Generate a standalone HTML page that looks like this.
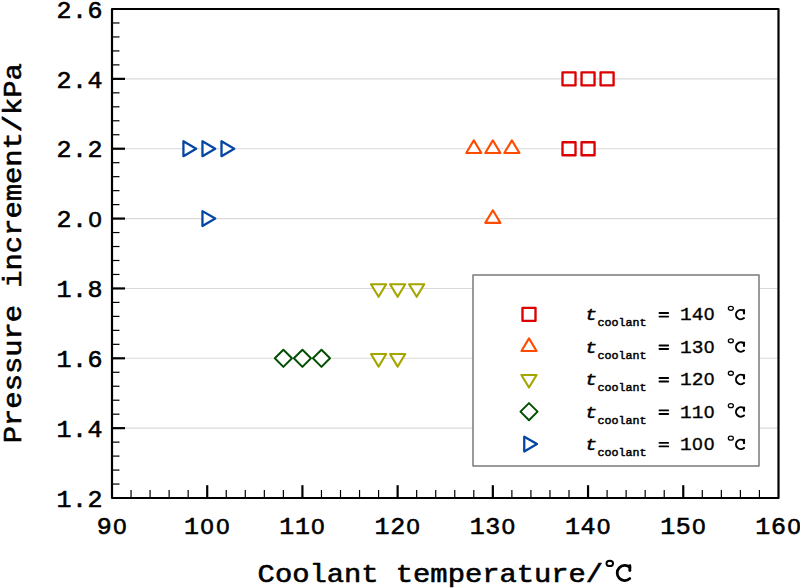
<!DOCTYPE html>
<html><head><meta charset="utf-8"><style>
html,body{margin:0;padding:0;background:#fff;}
svg{display:block;}
text{fill:#000;stroke:#000;stroke-linejoin:round;font-family:"Liberation Mono",monospace;}
.tk{font-size:25px;letter-spacing:0.6px;stroke-width:0.6;}
.tt{font-size:28.8px;stroke-width:0.65;}
.ti{font-style:italic;font-size:20px;stroke-width:0.5;}
.sub{font-size:11.7px;stroke-width:0.5;}
.lg{font-size:19.5px;stroke-width:0.4;}
.z{font-family:"Liberation Sans",sans-serif;}
</style></head><body>
<svg width="800" height="588" viewBox="0 0 800 588">
<line x1="113" y1="78.86" x2="777.5" y2="78.86" stroke="#d9d9d9" stroke-width="1.1"/>
<line x1="113" y1="148.72" x2="777.5" y2="148.72" stroke="#d9d9d9" stroke-width="1.1"/>
<line x1="113" y1="218.58" x2="777.5" y2="218.58" stroke="#d9d9d9" stroke-width="1.1"/>
<line x1="113" y1="288.44" x2="777.5" y2="288.44" stroke="#d9d9d9" stroke-width="1.1"/>
<line x1="113" y1="358.30" x2="777.5" y2="358.30" stroke="#d9d9d9" stroke-width="1.1"/>
<line x1="113" y1="428.16" x2="777.5" y2="428.16" stroke="#d9d9d9" stroke-width="1.1"/>
<line x1="112" y1="484.05" x2="119.5" y2="484.05" stroke="#000" stroke-width="1.2"/>
<line x1="112" y1="470.08" x2="119.5" y2="470.08" stroke="#000" stroke-width="1.2"/>
<line x1="112" y1="456.10" x2="119.5" y2="456.10" stroke="#000" stroke-width="1.2"/>
<line x1="112" y1="442.13" x2="119.5" y2="442.13" stroke="#000" stroke-width="1.2"/>
<line x1="112" y1="428.16" x2="125" y2="428.16" stroke="#000" stroke-width="2.2"/>
<line x1="112" y1="414.19" x2="119.5" y2="414.19" stroke="#000" stroke-width="1.2"/>
<line x1="112" y1="400.22" x2="119.5" y2="400.22" stroke="#000" stroke-width="1.2"/>
<line x1="112" y1="386.24" x2="119.5" y2="386.24" stroke="#000" stroke-width="1.2"/>
<line x1="112" y1="372.27" x2="119.5" y2="372.27" stroke="#000" stroke-width="1.2"/>
<line x1="112" y1="358.30" x2="125" y2="358.30" stroke="#000" stroke-width="2.2"/>
<line x1="112" y1="344.33" x2="119.5" y2="344.33" stroke="#000" stroke-width="1.2"/>
<line x1="112" y1="330.36" x2="119.5" y2="330.36" stroke="#000" stroke-width="1.2"/>
<line x1="112" y1="316.38" x2="119.5" y2="316.38" stroke="#000" stroke-width="1.2"/>
<line x1="112" y1="302.41" x2="119.5" y2="302.41" stroke="#000" stroke-width="1.2"/>
<line x1="112" y1="288.44" x2="125" y2="288.44" stroke="#000" stroke-width="2.2"/>
<line x1="112" y1="274.47" x2="119.5" y2="274.47" stroke="#000" stroke-width="1.2"/>
<line x1="112" y1="260.50" x2="119.5" y2="260.50" stroke="#000" stroke-width="1.2"/>
<line x1="112" y1="246.52" x2="119.5" y2="246.52" stroke="#000" stroke-width="1.2"/>
<line x1="112" y1="232.55" x2="119.5" y2="232.55" stroke="#000" stroke-width="1.2"/>
<line x1="112" y1="218.58" x2="125" y2="218.58" stroke="#000" stroke-width="2.2"/>
<line x1="112" y1="204.61" x2="119.5" y2="204.61" stroke="#000" stroke-width="1.2"/>
<line x1="112" y1="190.64" x2="119.5" y2="190.64" stroke="#000" stroke-width="1.2"/>
<line x1="112" y1="176.66" x2="119.5" y2="176.66" stroke="#000" stroke-width="1.2"/>
<line x1="112" y1="162.69" x2="119.5" y2="162.69" stroke="#000" stroke-width="1.2"/>
<line x1="112" y1="148.72" x2="125" y2="148.72" stroke="#000" stroke-width="2.2"/>
<line x1="112" y1="134.75" x2="119.5" y2="134.75" stroke="#000" stroke-width="1.2"/>
<line x1="112" y1="120.78" x2="119.5" y2="120.78" stroke="#000" stroke-width="1.2"/>
<line x1="112" y1="106.80" x2="119.5" y2="106.80" stroke="#000" stroke-width="1.2"/>
<line x1="112" y1="92.83" x2="119.5" y2="92.83" stroke="#000" stroke-width="1.2"/>
<line x1="112" y1="78.86" x2="125" y2="78.86" stroke="#000" stroke-width="2.2"/>
<line x1="112" y1="64.89" x2="119.5" y2="64.89" stroke="#000" stroke-width="1.2"/>
<line x1="112" y1="50.92" x2="119.5" y2="50.92" stroke="#000" stroke-width="1.2"/>
<line x1="112" y1="36.94" x2="119.5" y2="36.94" stroke="#000" stroke-width="1.2"/>
<line x1="112" y1="22.97" x2="119.5" y2="22.97" stroke="#000" stroke-width="1.2"/>
<line x1="131.04" y1="498" x2="131.04" y2="490" stroke="#000" stroke-width="1.2"/>
<line x1="150.08" y1="498" x2="150.08" y2="490" stroke="#000" stroke-width="1.2"/>
<line x1="169.13" y1="498" x2="169.13" y2="490" stroke="#000" stroke-width="1.2"/>
<line x1="188.17" y1="498" x2="188.17" y2="490" stroke="#000" stroke-width="1.2"/>
<line x1="207.21" y1="498" x2="207.21" y2="485.2" stroke="#000" stroke-width="2.2"/>
<line x1="226.25" y1="498" x2="226.25" y2="490" stroke="#000" stroke-width="1.2"/>
<line x1="245.29" y1="498" x2="245.29" y2="490" stroke="#000" stroke-width="1.2"/>
<line x1="264.34" y1="498" x2="264.34" y2="490" stroke="#000" stroke-width="1.2"/>
<line x1="283.38" y1="498" x2="283.38" y2="490" stroke="#000" stroke-width="1.2"/>
<line x1="302.42" y1="498" x2="302.42" y2="485.2" stroke="#000" stroke-width="2.2"/>
<line x1="321.46" y1="498" x2="321.46" y2="490" stroke="#000" stroke-width="1.2"/>
<line x1="340.50" y1="498" x2="340.50" y2="490" stroke="#000" stroke-width="1.2"/>
<line x1="359.55" y1="498" x2="359.55" y2="490" stroke="#000" stroke-width="1.2"/>
<line x1="378.59" y1="498" x2="378.59" y2="490" stroke="#000" stroke-width="1.2"/>
<line x1="397.63" y1="498" x2="397.63" y2="485.2" stroke="#000" stroke-width="2.2"/>
<line x1="416.67" y1="498" x2="416.67" y2="490" stroke="#000" stroke-width="1.2"/>
<line x1="435.71" y1="498" x2="435.71" y2="490" stroke="#000" stroke-width="1.2"/>
<line x1="454.76" y1="498" x2="454.76" y2="490" stroke="#000" stroke-width="1.2"/>
<line x1="473.80" y1="498" x2="473.80" y2="490" stroke="#000" stroke-width="1.2"/>
<line x1="492.84" y1="498" x2="492.84" y2="485.2" stroke="#000" stroke-width="2.2"/>
<line x1="511.88" y1="498" x2="511.88" y2="490" stroke="#000" stroke-width="1.2"/>
<line x1="530.92" y1="498" x2="530.92" y2="490" stroke="#000" stroke-width="1.2"/>
<line x1="549.97" y1="498" x2="549.97" y2="490" stroke="#000" stroke-width="1.2"/>
<line x1="569.01" y1="498" x2="569.01" y2="490" stroke="#000" stroke-width="1.2"/>
<line x1="588.05" y1="498" x2="588.05" y2="485.2" stroke="#000" stroke-width="2.2"/>
<line x1="607.09" y1="498" x2="607.09" y2="490" stroke="#000" stroke-width="1.2"/>
<line x1="626.13" y1="498" x2="626.13" y2="490" stroke="#000" stroke-width="1.2"/>
<line x1="645.18" y1="498" x2="645.18" y2="490" stroke="#000" stroke-width="1.2"/>
<line x1="664.22" y1="498" x2="664.22" y2="490" stroke="#000" stroke-width="1.2"/>
<line x1="683.26" y1="498" x2="683.26" y2="485.2" stroke="#000" stroke-width="2.2"/>
<line x1="702.30" y1="498" x2="702.30" y2="490" stroke="#000" stroke-width="1.2"/>
<line x1="721.34" y1="498" x2="721.34" y2="490" stroke="#000" stroke-width="1.2"/>
<line x1="740.39" y1="498" x2="740.39" y2="490" stroke="#000" stroke-width="1.2"/>
<line x1="759.43" y1="498" x2="759.43" y2="490" stroke="#000" stroke-width="1.2"/>
<g fill="#fff" stroke-width="2.1" stroke-linejoin="round"><rect x="562.51" y="72.36" width="13.00" height="13.00" stroke="#dc0000" stroke-width="2.35"/><rect x="581.55" y="72.36" width="13.00" height="13.00" stroke="#dc0000" stroke-width="2.35"/><rect x="600.59" y="72.36" width="13.00" height="13.00" stroke="#dc0000" stroke-width="2.35"/><rect x="562.51" y="142.22" width="13.00" height="13.00" stroke="#dc0000" stroke-width="2.35"/><rect x="581.55" y="142.22" width="13.00" height="13.00" stroke="#dc0000" stroke-width="2.35"/><polygon points="473.80,140.37 466.25,153.02 481.35,153.02" stroke="#ff4b00"/><polygon points="492.84,140.37 485.29,153.02 500.39,153.02" stroke="#ff4b00"/><polygon points="511.88,140.37 504.33,153.02 519.43,153.02" stroke="#ff4b00"/><polygon points="492.84,210.23 485.29,222.88 500.39,222.88" stroke="#ff4b00"/><polygon points="378.59,296.79 370.99,284.19 386.19,284.19" stroke="#a5a500"/><polygon points="397.63,296.79 390.03,284.19 405.23,284.19" stroke="#a5a500"/><polygon points="416.67,296.79 409.07,284.19 424.27,284.19" stroke="#a5a500"/><polygon points="378.59,366.65 370.99,354.05 386.19,354.05" stroke="#a5a500"/><polygon points="397.63,366.65 390.03,354.05 405.23,354.05" stroke="#a5a500"/><polygon points="283.38,349.75 291.93,358.30 283.38,366.85 274.83,358.30" stroke="#004e00" stroke-width="1.95"/><polygon points="302.42,349.75 310.97,358.30 302.42,366.85 293.87,358.30" stroke="#004e00" stroke-width="1.95"/><polygon points="321.46,349.75 330.01,358.30 321.46,366.85 312.91,358.30" stroke="#004e00" stroke-width="1.95"/><polygon points="196.17,148.72 183.42,141.27 183.42,156.17" stroke="#0646a2" stroke-width="2.3"/><polygon points="215.21,148.72 202.46,141.27 202.46,156.17" stroke="#0646a2" stroke-width="2.3"/><polygon points="234.25,148.72 221.50,141.27 221.50,156.17" stroke="#0646a2" stroke-width="2.3"/><polygon points="215.21,218.58 202.46,211.13 202.46,226.03" stroke="#0646a2" stroke-width="2.3"/></g>
<rect x="112" y="9" width="666.5" height="489" fill="none" stroke="#000" stroke-width="2.2" stroke-linejoin="round"/>
<rect x="473" y="275" width="286" height="191" fill="#fff" stroke="#7a7a7a" stroke-width="1.5" stroke-linejoin="round"/>
<g transform="translate(585,320.40) scale(1,0.83)"><text class="ti">t</text></g>
<g transform="translate(597.5,326.30) scale(1,0.86)"><text class="sub">coolant</text></g>
<path d="M659.5,313.05H668.2M659.5,316.60H668.2" stroke="#000" stroke-width="1.9" stroke-linecap="round"/>
<g transform="translate(0,320.40) scale(1,0.92)"><text class="lg"><tspan x="680.00">1</tspan><tspan x="691.70">4</tspan><tspan x="704.06" class="z" style="font-size:18.52px">0</tspan></text></g>
<ellipse cx="730.85" cy="308.35" rx="2.50" ry="2.00" fill="none" stroke="#000" stroke-width="1.3"/><path d="M744.00,311.11 A4.79,4.70 0 1 0 744.00,318.09" fill="none" stroke="#000" stroke-width="2.0" stroke-linecap="round"/><line x1="744.00" y1="310.10" x2="744.00" y2="313.51" stroke="#000" stroke-width="2.10" stroke-linecap="round"/>
<g transform="translate(585,352.85) scale(1,0.83)"><text class="ti">t</text></g>
<g transform="translate(597.5,358.75) scale(1,0.86)"><text class="sub">coolant</text></g>
<path d="M659.5,345.50H668.2M659.5,349.05H668.2" stroke="#000" stroke-width="1.9" stroke-linecap="round"/>
<g transform="translate(0,352.85) scale(1,0.92)"><text class="lg"><tspan x="680.00">1</tspan><tspan x="691.70">3</tspan><tspan x="704.06" class="z" style="font-size:18.52px">0</tspan></text></g>
<ellipse cx="730.85" cy="340.80" rx="2.50" ry="2.00" fill="none" stroke="#000" stroke-width="1.3"/><path d="M744.00,343.56 A4.79,4.70 0 1 0 744.00,350.54" fill="none" stroke="#000" stroke-width="2.0" stroke-linecap="round"/><line x1="744.00" y1="342.55" x2="744.00" y2="345.96" stroke="#000" stroke-width="2.10" stroke-linecap="round"/>
<g transform="translate(585,385.30) scale(1,0.83)"><text class="ti">t</text></g>
<g transform="translate(597.5,391.20) scale(1,0.86)"><text class="sub">coolant</text></g>
<path d="M659.5,377.95H668.2M659.5,381.50H668.2" stroke="#000" stroke-width="1.9" stroke-linecap="round"/>
<g transform="translate(0,385.30) scale(1,0.92)"><text class="lg"><tspan x="680.00">1</tspan><tspan x="691.70">2</tspan><tspan x="704.06" class="z" style="font-size:18.52px">0</tspan></text></g>
<ellipse cx="730.85" cy="373.25" rx="2.50" ry="2.00" fill="none" stroke="#000" stroke-width="1.3"/><path d="M744.00,376.01 A4.79,4.70 0 1 0 744.00,382.99" fill="none" stroke="#000" stroke-width="2.0" stroke-linecap="round"/><line x1="744.00" y1="375.00" x2="744.00" y2="378.41" stroke="#000" stroke-width="2.10" stroke-linecap="round"/>
<g transform="translate(585,417.75) scale(1,0.83)"><text class="ti">t</text></g>
<g transform="translate(597.5,423.65) scale(1,0.86)"><text class="sub">coolant</text></g>
<path d="M659.5,410.40H668.2M659.5,413.95H668.2" stroke="#000" stroke-width="1.9" stroke-linecap="round"/>
<g transform="translate(0,417.75) scale(1,0.92)"><text class="lg"><tspan x="680.00">1</tspan><tspan x="691.70">1</tspan><tspan x="704.06" class="z" style="font-size:18.52px">0</tspan></text></g>
<ellipse cx="730.85" cy="405.70" rx="2.50" ry="2.00" fill="none" stroke="#000" stroke-width="1.3"/><path d="M744.00,408.46 A4.79,4.70 0 1 0 744.00,415.44" fill="none" stroke="#000" stroke-width="2.0" stroke-linecap="round"/><line x1="744.00" y1="407.45" x2="744.00" y2="410.86" stroke="#000" stroke-width="2.10" stroke-linecap="round"/>
<g transform="translate(585,450.20) scale(1,0.83)"><text class="ti">t</text></g>
<g transform="translate(597.5,456.10) scale(1,0.86)"><text class="sub">coolant</text></g>
<path d="M659.5,442.85H668.2M659.5,446.40H668.2" stroke="#000" stroke-width="1.9" stroke-linecap="round"/>
<g transform="translate(0,450.20) scale(1,0.92)"><text class="lg"><tspan x="680.00">1</tspan><tspan x="692.36" class="z" style="font-size:18.52px">0</tspan><tspan x="704.06" class="z" style="font-size:18.52px">0</tspan></text></g>
<ellipse cx="730.85" cy="438.15" rx="2.50" ry="2.00" fill="none" stroke="#000" stroke-width="1.3"/><path d="M744.00,440.91 A4.79,4.70 0 1 0 744.00,447.89" fill="none" stroke="#000" stroke-width="2.0" stroke-linecap="round"/><line x1="744.00" y1="439.90" x2="744.00" y2="443.31" stroke="#000" stroke-width="2.10" stroke-linecap="round"/>
<g fill="#fff" stroke-width="2.1" stroke-linejoin="round"><rect x="522.50" y="307.80" width="13.00" height="13.00" stroke="#dc0000" stroke-width="2.35"/><polygon points="529.00,338.40 521.45,351.05 536.55,351.05" stroke="#ff4b00"/><polygon points="529.00,387.55 521.40,374.95 536.60,374.95" stroke="#a5a500"/><polygon points="529.00,403.10 537.55,411.65 529.00,420.20 520.45,411.65" stroke="#004e00" stroke-width="1.95"/><polygon points="537.00,444.10 524.25,436.65 524.25,451.55" stroke="#0646a2" stroke-width="2.3"/></g>
<g transform="translate(0,17.70) scale(1,0.965)"><text class="tk"><tspan x="56.40">2</tspan><tspan x="72.00">.</tspan><tspan x="87.60">6</tspan></text></g>
<g transform="translate(0,87.56) scale(1,0.965)"><text class="tk"><tspan x="56.40">2</tspan><tspan x="72.00">.</tspan><tspan x="87.60">4</tspan></text></g>
<g transform="translate(0,157.42) scale(1,0.965)"><text class="tk"><tspan x="56.40">2</tspan><tspan x="72.00">.</tspan><tspan x="87.60">2</tspan></text></g>
<g transform="translate(0,227.28) scale(1,0.965)"><text class="tk"><tspan x="56.40">2</tspan><tspan x="72.00">.</tspan><tspan x="88.45" class="z" style="font-size:23.75px">0</tspan></text></g>
<g transform="translate(0,297.14) scale(1,0.965)"><text class="tk"><tspan x="56.40">1</tspan><tspan x="72.00">.</tspan><tspan x="87.60">8</tspan></text></g>
<g transform="translate(0,367.00) scale(1,0.965)"><text class="tk"><tspan x="56.40">1</tspan><tspan x="72.00">.</tspan><tspan x="87.60">6</tspan></text></g>
<g transform="translate(0,436.86) scale(1,0.965)"><text class="tk"><tspan x="56.40">1</tspan><tspan x="72.00">.</tspan><tspan x="87.60">4</tspan></text></g>
<g transform="translate(0,506.72) scale(1,0.965)"><text class="tk"><tspan x="56.40">1</tspan><tspan x="72.00">.</tspan><tspan x="87.60">2</tspan></text></g>
<g transform="translate(0,534.4) scale(1,0.965)"><text class="tk"><tspan x="96.70">9</tspan><tspan x="113.15" class="z" style="font-size:23.75px">0</tspan></text></g>
<g transform="translate(0,534.4) scale(1,0.965)"><text class="tk"><tspan x="184.11">1</tspan><tspan x="200.56" class="z" style="font-size:23.75px">0</tspan><tspan x="216.16" class="z" style="font-size:23.75px">0</tspan></text></g>
<g transform="translate(0,534.4) scale(1,0.965)"><text class="tk"><tspan x="279.32">1</tspan><tspan x="294.92">1</tspan><tspan x="311.37" class="z" style="font-size:23.75px">0</tspan></text></g>
<g transform="translate(0,534.4) scale(1,0.965)"><text class="tk"><tspan x="374.53">1</tspan><tspan x="390.13">2</tspan><tspan x="406.58" class="z" style="font-size:23.75px">0</tspan></text></g>
<g transform="translate(0,534.4) scale(1,0.965)"><text class="tk"><tspan x="469.74">1</tspan><tspan x="485.34">3</tspan><tspan x="501.79" class="z" style="font-size:23.75px">0</tspan></text></g>
<g transform="translate(0,534.4) scale(1,0.965)"><text class="tk"><tspan x="564.95">1</tspan><tspan x="580.55">4</tspan><tspan x="597.00" class="z" style="font-size:23.75px">0</tspan></text></g>
<g transform="translate(0,534.4) scale(1,0.965)"><text class="tk"><tspan x="660.16">1</tspan><tspan x="675.76">5</tspan><tspan x="692.21" class="z" style="font-size:23.75px">0</tspan></text></g>
<g transform="translate(0,534.4) scale(1,0.965)"><text class="tk"><tspan x="755.37">1</tspan><tspan x="770.97">6</tspan><tspan x="787.42" class="z" style="font-size:23.75px">0</tspan></text></g>
<g transform="translate(257.6,581.5) scale(1,0.87)"><text class="tt">Coolant temperature/</text></g>
<ellipse cx="609.75" cy="563.40" rx="3.30" ry="2.65" fill="none" stroke="#000" stroke-width="1.9"/><path d="M629.83,567.32 A7.58,7.57 0 1 0 629.83,578.58" fill="none" stroke="#000" stroke-width="2.75" stroke-linecap="round"/><line x1="629.83" y1="565.65" x2="629.83" y2="570.62" stroke="#000" stroke-width="2.89" stroke-linecap="round"/>
<g transform="translate(21,443.2) rotate(-90) scale(1,0.87)"><text class="tt">Pressure increment/kPa</text></g>
</svg>
</body></html>
